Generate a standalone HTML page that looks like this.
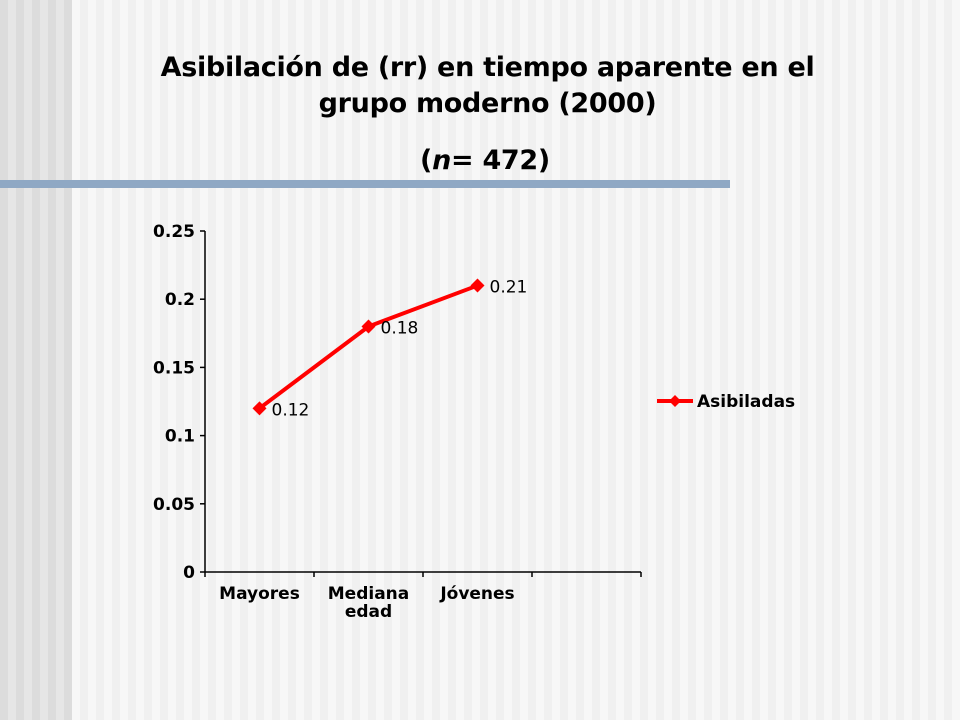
<!DOCTYPE html>
<html><head><meta charset="utf-8"><style>
body{margin:0;width:960px;height:720px;overflow:hidden;font-family:"DejaVu Sans",sans-serif;}
#bg{position:absolute;left:0;top:0;width:960px;height:720px;
background:repeating-linear-gradient(90deg,#f0f0f0 0,#f0f0f0 8px,#f7f7f7 8px,#f7f7f7 16px);}
#bgl{position:absolute;left:0;top:0;width:72px;height:720px;
background:repeating-linear-gradient(90deg,#dcdcdc 0,#dcdcdc 8px,#e6e6e6 8px,#e6e6e6 16px);}
.t{position:absolute;width:960px;text-align:center;font-weight:bold;font-size:27px;color:#000;font-family:"DejaVu Sans",sans-serif;letter-spacing:-0.3px;}
</style></head><body>
<div id="bg"></div>
<div id="bgl"></div>
<div class="t" style="left:0;top:50px;width:975px;line-height:36px;">Asibilación de (rr) en tiempo aparente en el<br>grupo moderno (2000)</div>
<div class="t" style="left:0;top:143px;width:970px;line-height:36px;">(<i>n</i>= 472)</div>
<div style="position:absolute;left:0;top:180px;width:730px;height:8px;background:#8fa8c4;"></div>
<svg id="chart" width="960" height="720" style="position:absolute;left:0;top:0"></svg>
<script>
const categories=["Mayores","Mediana\nedad","Jóvenes",""];
const values=[0.12,0.18,0.21];
const labels=["0.12","0.18","0.21"];
const yTicks=[0,0.05,0.1,0.15,0.2,0.25];
const yTickLabels=["0","0.05","0.1","0.15","0.2","0.25"];
const seriesName="Asibiladas";
const NS="http://www.w3.org/2000/svg";
const svg=document.getElementById('chart');
const X0=205,X1=641,Y0=572,Y1=231,YMAX=0.25;
const FB='DejaVu Sans, sans-serif';
const bw=(X1-X0)/categories.length;
const xc=i=>X0+bw*(i+0.5);
const y=v=>Y0-(v/YMAX)*(Y0-Y1);
function mk(t,a,p){const e=document.createElementNS(NS,t);for(const k in a)e.setAttribute(k,a[k]);(p||svg).appendChild(e);return e;}
let e;
e=mk('line',{x1:X0,y1:Y1,x2:X0,y2:Y0,stroke:'#000','stroke-width':1.5});


e=mk('line',{x1:X0,y1:Y0,x2:X1,y2:Y0,stroke:'#000','stroke-width':1.5});


yTicks.forEach((v,i)=>{
 mk('line',{x1:X0-5,y1:y(v),x2:X0,y2:y(v),stroke:'#000','stroke-width':1.5});
 e=mk('text',{x:X0-10,y:y(v)+6,'text-anchor':'end','font-size':17,'font-weight':'bold','font-family':FB});
 e.textContent=yTickLabels[i];
 
 
});
for(let i=0;i<=categories.length;i++){mk('line',{x1:X0+bw*i,y1:Y0,x2:X0+bw*i,y2:Y0+5,stroke:'#000','stroke-width':1.5});}
categories.forEach((c,i)=>{
 c.split('\n').forEach((ln,j)=>{
  e=mk('text',{x:xc(i),y:Y0+27+j*18,'text-anchor':'middle','font-size':17,'font-weight':'bold','font-family':FB});
  e.textContent=ln;
  
  
 });
});
e=mk('polyline',{points:values.map((v,i)=>xc(i)+','+y(v)).join(' '),fill:'none',stroke:'#ff0000','stroke-width':4});


values.forEach((v,i)=>{
 const cx=xc(i),cy=y(v);
 e=mk('polygon',{points:`${cx},${cy-7} ${cx+7},${cy} ${cx},${cy+7} ${cx-7},${cy}`,fill:'#ff0000'});
 
 
 e=mk('text',{x:cx+12,y:cy+7,'font-size':17,'font-family':FB});
 e.textContent=labels[i];
 
 
});
e=mk('line',{x1:657,y1:401,x2:693,y2:401,stroke:'#ff0000','stroke-width':4});


mk('polygon',{points:'675,395 681,401 675,407 669,401',fill:'#ff0000'});
e=mk('text',{x:697,y:407,'font-size':17,'font-weight':'bold','font-family':FB});
e.textContent=seriesName;


</script>
</body></html>
